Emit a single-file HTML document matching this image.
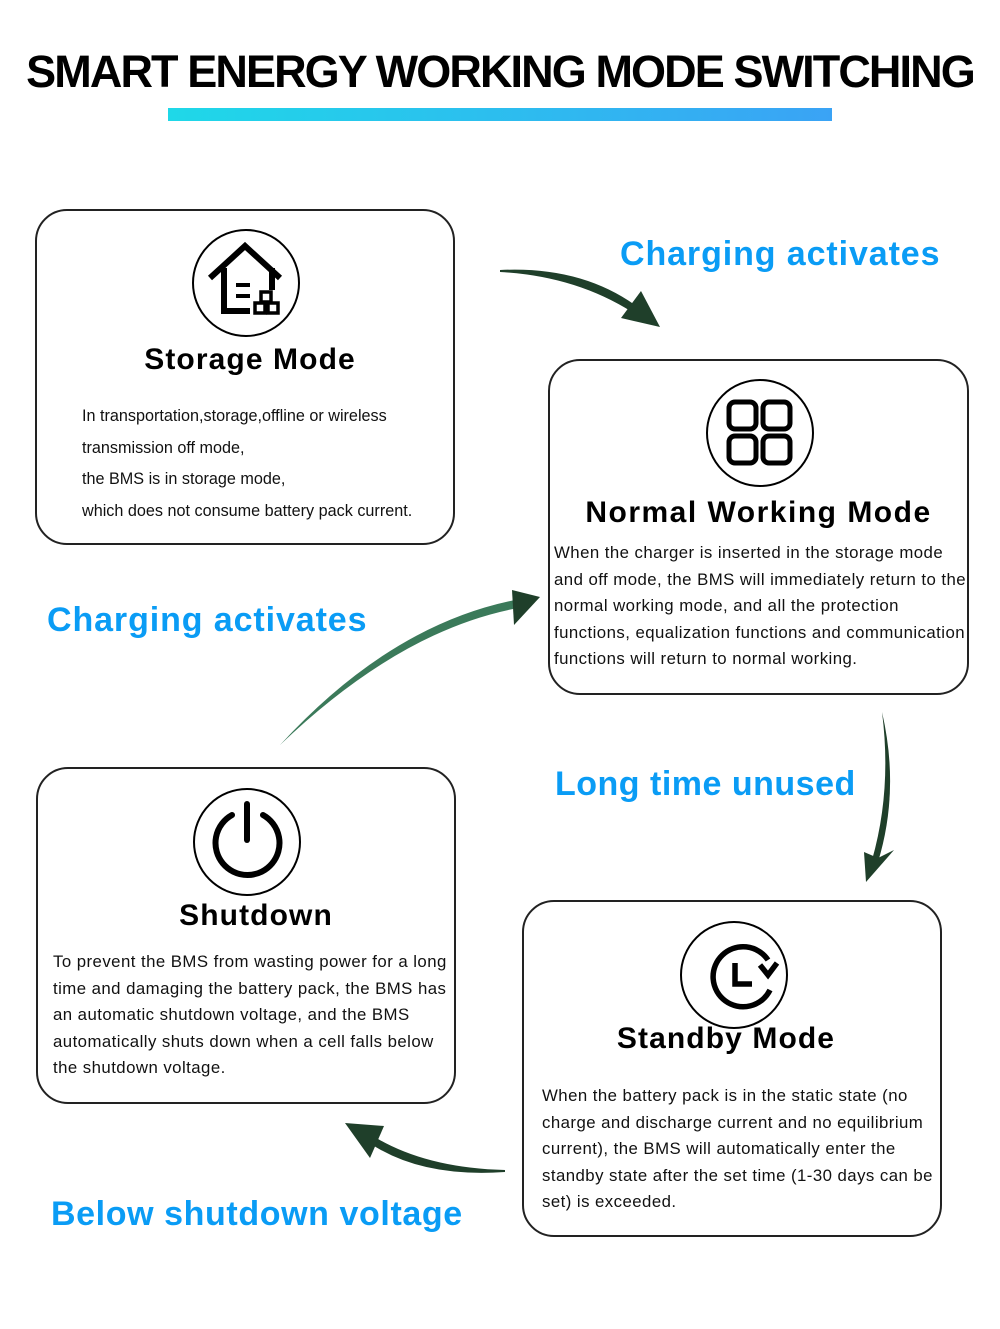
<!DOCTYPE html>
<html><head><meta charset="utf-8"><style>
body{margin:0;width:1000px;height:1329px;background:#fff;position:relative;font-family:"Liberation Sans",Arial,sans-serif;overflow:hidden}
.a{position:absolute}
.box{position:absolute;border:2px solid #222;border-radius:32px;box-sizing:border-box}
h1{position:absolute;top:46px;left:0;width:1000px;text-align:center;margin:0;font-size:45px;font-weight:bold;letter-spacing:-1.9px;color:#000}
.bar{left:168px;top:108px;width:664px;height:13px;background:linear-gradient(90deg,#1fd8e8,#3aa3f5)}
.t{position:absolute;font-weight:bold;font-size:30px;color:#000;text-align:center;letter-spacing:1.1px}
.b{position:absolute;font-size:16.8px;color:#111;letter-spacing:0.45px}
.lbl{position:absolute;color:#0a9cf5;font-weight:bold;font-size:34px;letter-spacing:0.9px}
.ic{position:absolute;border:2px solid #000;border-radius:50%;box-sizing:border-box;width:108px;height:108px}
</style></head><body>
<h1>SMART ENERGY WORKING MODE SWITCHING</h1>
<div class="a bar"></div>

<div class="box" style="left:35px;top:209px;width:420px;height:336px"></div>
<div class="box" style="left:548px;top:359px;width:421px;height:336px"></div>
<div class="box" style="left:36px;top:767px;width:420px;height:337px"></div>
<div class="box" style="left:522px;top:900px;width:420px;height:337px"></div>

<div class="ic" style="left:192px;top:229px"></div>
<div class="ic" style="left:706px;top:379px"></div>
<div class="ic" style="left:193px;top:788px"></div>
<div class="ic" style="left:680px;top:921px"></div>

<svg class="a" style="left:0;top:0" width="1000" height="1329">
<g fill="none" stroke="#000" stroke-width="6">
<path d="M210 278 L245 246 L280 278"/>
<path d="M224 268 V311 H250"/>
<path d="M272 268 V290"/>
<path d="M236 285 H250 M236 296 H250" stroke-width="4"/>
</g>
<g fill="none" stroke="#000" stroke-width="3.5">
<rect x="255" y="303" width="10" height="10"/><rect x="268" y="303" width="10" height="10"/><rect x="261" y="292" width="10" height="10"/>
</g>
<g fill="none" stroke="#000" stroke-width="5">
<rect x="729" y="402" width="27" height="27" rx="6"/><rect x="763" y="402" width="27" height="27" rx="6"/>
<rect x="729" y="436" width="27" height="27" rx="6"/><rect x="763" y="436" width="27" height="27" rx="6"/>
</g>
<g fill="none" stroke="#000" stroke-width="6" stroke-linecap="round">
<path d="M232 815 A32 32 0 1 0 263 815"/>
<path d="M247 804 V840"/>
</g>
<g fill="none" stroke="#000" stroke-width="5.5">
<path d="M768 960 A30 30 0 1 0 770 990"/>
<path d="M735 963 V984 H752"/>
<path d="M760 965 L768 975 L777 963"/>
</g>
<g fill="#1f3f2a">
<path d="M500 270 Q580 266 635 305 L632 312 Q575 276 500 272 Z"/>
<polygon points="641,291 660,327 621,318"/>
<path d="M280 745 Q390 625 515 600 L518 608 Q400 630 280 745 Z" fill="#3b7a5a"/>
<polygon points="512,590 540,597 514,625"/>
<path d="M882 712 Q900 790 878 862 L872 860 Q892 790 882 712 Z"/>
<polygon points="864,852 866,882 894,850 878,858"/>
<path d="M505 1172 Q420 1178 368 1142 L373 1136 Q425 1168 505 1170 Z"/>
<polygon points="345,1123 384,1126 370,1158"/>
</g>
</svg>

<div class="t" style="left:35px;top:343px;width:430px">Storage Mode</div>
<div class="b" style="left:82px;top:401px;line-height:31.5px;font-size:16.2px;letter-spacing:0px">In transportation,storage,offline or wireless<br>transmission off mode,<br>the BMS is in storage mode,<br>which does not consume battery pack current.</div>

<div class="t" style="left:548px;top:496px;width:421px;letter-spacing:1.5px">Normal Working Mode</div>
<div class="b" style="left:554px;top:540px;line-height:26.5px">When the charger is inserted in the storage mode<br>and off mode, the BMS will immediately return to the<br>normal working mode, and all the protection<br>functions, equalization functions and communication<br>functions will return to normal working.</div>

<div class="t" style="left:36px;top:899px;width:440px">Shutdown</div>
<div class="b" style="left:53px;top:949px;line-height:26.5px">To prevent the BMS from wasting power for a long<br>time and damaging the battery pack, the BMS has<br>an automatic shutdown voltage, and the BMS<br>automatically shuts down when a cell falls below<br>the shutdown voltage.</div>

<div class="t" style="left:522px;top:1022px;width:408px">Standby Mode</div>
<div class="b" style="left:542px;top:1083px;line-height:26.5px">When the battery pack is in the static state (no<br>charge and discharge current and no equilibrium<br>current), the BMS will automatically enter the<br>standby state after the set time (1-30 days can be<br>set) is exceeded.</div>

<div class="lbl" style="left:620px;top:235px">Charging activates</div>
<div class="lbl" style="left:47px;top:601px">Charging activates</div>
<div class="lbl" style="left:555px;top:765px;letter-spacing:0.5px">Long time unused</div>
<div class="lbl" style="left:51px;top:1195px;letter-spacing:0.6px">Below shutdown voltage</div>
</body></html>
